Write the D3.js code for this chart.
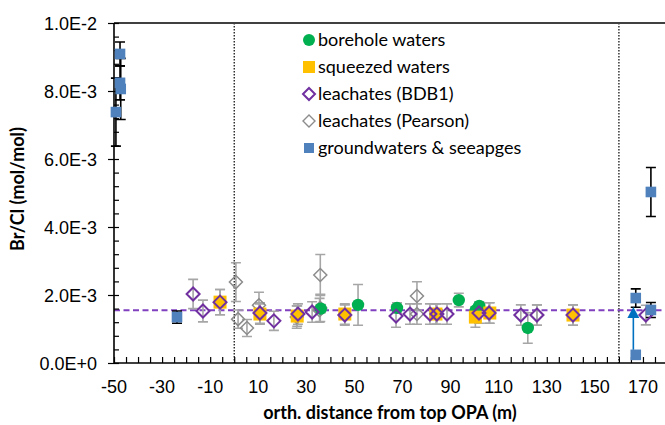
<!DOCTYPE html>
<html><head><meta charset="utf-8">
<script src="https://cdn.jsdelivr.net/npm/d3@7"></script>
<style>body{margin:0;background:#fff}svg{display:block}</style>
</head><body>
<svg id="c" width="665" height="425"></svg>
<script>
// ---- data (Br/Cl in units of 1E-3 mol/mol, errors symmetric) ----
const xTicks = [-50,-30,-10,10,30,50,70,90,110,130,150,170];
const yTicks = [0,0.002,0.004,0.006,0.008,0.01];
const yTickLabels = ["0.0E+0","2.0E-3","4.0E-3","6.0E-3","8.0E-3","1.0E-2"];

const boreX = [36, 51.5, 67.7, 93.4, 100.4, 101.9, 122.1];
const boreY = [1.60, 1.71, 1.62, 1.85, 1.55, 1.68, 1.03];
const boreE = [0.12, 0.60, 0.15, 0.20, 0.10, 0.12, 0.45];

const squeezX = [-5.9, 10.7, 26.2, 46, 83.9, 100.3, 106.3, 140.9];
const squeezY = [1.79, 1.44, 1.38, 1.44, 1.44, 1.35, 1.47, 1.41];
const squeezE = [0.37, 0.30, 0.30, 0.30, 0.30, 0.30, 0.30, 0.30];

const bdbX = [-17.1, -13, -5.9, 10.7, 16.5, 26.5, 32.4, 46, 67.3, 73.1, 81.4, 84.3, 88.5, 101.8, 106, 119.2, 125.9, 140.9, 171.2];
const bdbY = [2.03, 1.53, 1.79, 1.47, 1.24, 1.44, 1.50, 1.41, 1.38, 1.44, 1.44, 1.44, 1.44, 1.47, 1.47, 1.41, 1.41, 1.41, 1.41];
const bdbE = [0.43, 0.32, 0.37, 0.30, 0.28, 0.30, 0.30, 0.30, 0.33, 0.30, 0.30, 0.30, 0.30, 0.30, 0.30, 0.30, 0.30, 0.30, 0.29];

const pearX = [0.7, 1.6, 5.3, 10.3, 26, 35.8, 35.8, 35.5, 76, 76, 125.9];
const pearY = [2.38, 1.29, 1.03, 1.70, 1.35, 2.59, 1.62, 1.55, 1.97, 1.44, 1.41];
const pearE = [0.57, 0.27, 0.25, 0.38, 0.33, 0.60, 0.40, 0.35, 0.42, 0.30, 0.30];

const gwX = [-49.2, -47.5, -47.5, -47.2, -23.8, 167, 167, 173.3, 173.3];
const gwY = [7.38, 9.09, 8.24, 8.06, 1.35, 1.91, 0.24, 1.56, 5.03];
const gwE = [1.00, 0.35, 0.50, 0.90, 0.18, 0.27, 0, 0.22, 0.72];

const arrowFrom = [166, 0.24];
const arrowTo = [166, 1.47];
const meanLine = 1.55;
const boundaries = [0, 160];

const legendLabels = ["borehole waters","squeezed waters","leachates (BDB1)","leachates (Pearson)","groundwaters & seeapges"];

// ---- layout ----
const svg = d3.select("#c");
const x = d3.scaleLinear().domain([-50, 178]).range([114, 662.2]);
const y = d3.scaleLinear().domain([0, 0.01]).range([363, 23]);
const S = 1e-3;
const axisFont = "'Liberation Sans', Arial, sans-serif";
const textFont = "Lato, 'Open Sans', sans-serif";

const col = {green:"#00B050", yellow:"#FFC000", purple:"#7030A0", gray:"#8C8C8C", blue:"#4F81BD", arrow:"#0070C0", err:"#A6A6A6"};

// boundaries (dotted)
svg.selectAll(".bnd").data(boundaries).join("line")
  .attr("x1", d=>x(d)).attr("x2", d=>x(d)).attr("y1", y(0.01)).attr("y2", y(0))
  .attr("stroke","#000").attr("stroke-width",1.2).attr("stroke-dasharray","1.5,1.5");

// top border
svg.append("line").attr("x1", x(-50)).attr("x2", 665).attr("y1", y(0.01)).attr("y2", y(0.01))
  .attr("stroke","#404040").attr("stroke-width",2.2);

// mean dashed line
svg.append("line").attr("x1", x(-50)).attr("x2", 665).attr("y1", y(meanLine*S)).attr("y2", y(meanLine*S))
  .attr("stroke","#8040C0").attr("stroke-width",2).attr("stroke-dasharray","6,3.5");

// axes
const xAxis = d3.axisBottom(x).tickValues(d3.range(-50, 180, 5)).tickSize(-6).tickFormat("");
const gx = svg.append("g").attr("transform",`translate(0,${y(0)})`).call(xAxis);
gx.select(".domain").attr("stroke","#000").attr("stroke-width",1.6).attr("d",`M${x(-50)},0H665`);
gx.selectAll(".tick line").attr("stroke","#000").attr("stroke-width",1.2);
svg.append("g").selectAll("text").data(xTicks).join("text")
  .attr("x", d=>x(d)).attr("y", 393).attr("text-anchor","middle")
  .attr("font-family", axisFont).attr("font-size", 18).attr("fill","#000").text(d=>d);

const yMinor = d3.axisLeft(y).tickValues(d3.range(0, 0.01001, 0.0004)).tickSize(-5).tickFormat("");
const gym = svg.append("g").attr("transform",`translate(${x(-50)},0)`).call(yMinor);
gym.select(".domain").remove();
gym.selectAll(".tick line").attr("stroke","#000").attr("stroke-width",1.2);
const yAxis = d3.axisLeft(y).tickValues(yTicks).tickSize(6).tickFormat((d,i)=>yTickLabels[i]);
const gy = svg.append("g").attr("transform",`translate(${x(-50)},0)`).call(yAxis);
gy.select(".domain").attr("stroke","#000").attr("stroke-width",1.6).attr("d",`M0,${y(0.01)}V${y(0)}`);
gy.selectAll(".tick line").attr("stroke","#000").attr("stroke-width",1.2);
gy.selectAll(".tick text").attr("font-family", axisFont).attr("font-size", 18).attr("fill","#000").attr("x",-17).attr("dy","0.35em");

// axis titles
svg.append("text").attr("x", 390).attr("y", 419).attr("text-anchor","middle")
  .attr("font-family", textFont).attr("font-weight","bold").attr("font-size",18).text("orth. distance from top OPA (m)");
svg.append("text").attr("transform","translate(24,189) rotate(-90)").attr("text-anchor","middle")
  .attr("font-family", textFont).attr("font-weight","bold").attr("font-size",18).text("Br/Cl (mol/mol)");

// helpers
const zip = (xs, ys, es) => xs.map((v,i)=>({x:v, y:ys[i]*S, e:es[i]*S}));
const bore = zip(boreX, boreY, boreE), squeez = zip(squeezX, squeezY, squeezE),
      bdb = zip(bdbX, bdbY, bdbE), pear = zip(pearX, pearY, pearE), gw = zip(gwX, gwY, gwE);

function errbars(data, color, w){
  const g = svg.append("g").attr("stroke", color).attr("stroke-width", w).attr("fill","none");
  data.filter(d=>d.e>0).forEach(d=>{
    const cx = x(d.x), t = y(d.y + d.e), b = y(d.y - d.e);
    g.append("path").attr("d", `M${cx},${t}V${b}M${cx-5},${t}H${cx+5}M${cx-5},${b}H${cx+5}`);
  });
}
errbars(pear, col.err, 1.6);
errbars(bore, col.err, 1.6);
errbars(squeez, col.err, 1.6);
errbars(bdb, col.err, 1.6);
errbars(gw, "#000", 1.6);

const diamond = (cx, cy, r) => `M${cx},${cy-r}L${cx+r},${cy}L${cx},${cy+r}L${cx-r},${cy}Z`;

// Pearson
svg.append("g").selectAll("path").data(pear).join("path")
  .attr("d", d=>diamond(x(d.x), y(d.y), 6.5)).attr("fill","none").attr("stroke",col.gray).attr("stroke-width",1.5);
// borehole
svg.append("g").selectAll("circle").data(bore).join("circle")
  .attr("cx", d=>x(d.x)).attr("cy", d=>y(d.y)).attr("r", 6.2).attr("fill", col.green);
// squeezed
svg.append("g").selectAll("rect").data(squeez).join("rect")
  .attr("x", d=>x(d.x)-6.5).attr("y", d=>y(d.y)-6.5).attr("width",13).attr("height",13).attr("fill", col.yellow);
// BDB1
svg.append("g").selectAll("path").data(bdb).join("path")
  .attr("d", d=>diamond(x(d.x), y(d.y), 6.5)).attr("fill","none").attr("stroke",col.purple).attr("stroke-width",2);
// arrow
svg.append("line").attr("x1", x(arrowFrom[0])).attr("y1", y(arrowFrom[1]*S)-5)
  .attr("x2", x(arrowTo[0])).attr("y2", y(arrowTo[1]*S)+4).attr("stroke", col.arrow).attr("stroke-width",1.6);
{
  const ax = x(arrowTo[0]), ay = y(arrowTo[1]*S);
  svg.append("path").attr("d", `M${ax},${ay-6}L${ax+6},${ay+5}L${ax-6},${ay+5}Z`).attr("fill", col.arrow);
}
// groundwaters
svg.append("g").selectAll("rect").data(gw).join("rect")
  .attr("x", d=>x(d.x)-5.3).attr("y", d=>y(d.y)-5.3).attr("width",10.6).attr("height",10.6).attr("fill", col.blue);

// legend
const lg = svg.append("g");
const ly = [40, 67, 94, 121, 148], lx = 309;
lg.append("circle").attr("cx", lx).attr("cy", ly[0]).attr("r", 6).attr("fill", col.green);
lg.append("rect").attr("x", lx-6).attr("y", ly[1]-6).attr("width",12).attr("height",12).attr("fill", col.yellow);
lg.append("path").attr("d", diamond(lx, ly[2], 6)).attr("fill","none").attr("stroke", col.purple).attr("stroke-width",2);
lg.append("path").attr("d", diamond(lx, ly[3], 6)).attr("fill","none").attr("stroke", col.gray).attr("stroke-width",1.4);
lg.append("rect").attr("x", lx-5).attr("y", ly[4]-5).attr("width",10).attr("height",10).attr("fill", col.blue);
lg.selectAll("text").data(legendLabels).join("text")
  .attr("x", 318).attr("y", (d,i)=>ly[i]).attr("dy","0.35em")
  .attr("font-family", textFont).attr("font-size", 18).attr("fill","#000").text(d=>d);
</script>
</body></html>
